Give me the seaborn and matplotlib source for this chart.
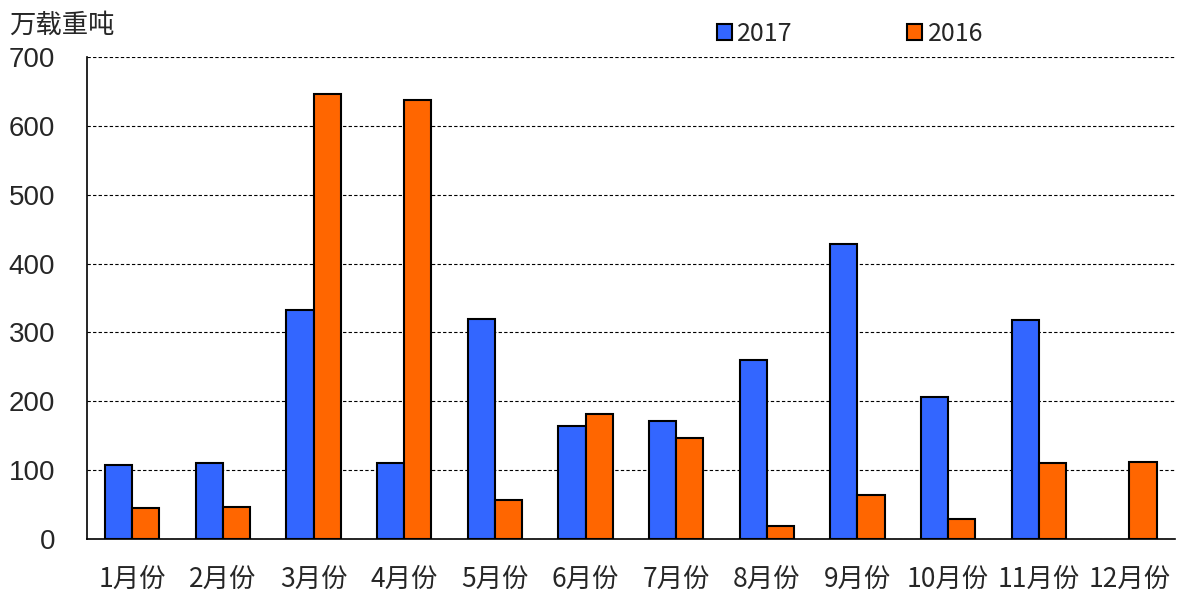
import numpy as np
import pandas as pd
import matplotlib
matplotlib.use('Agg')
import matplotlib.pyplot as plt
from matplotlib.ticker import FixedLocator
import seaborn as sns

months = ['1月份', '2月份', '3月份', '4月份', '5月份', '6月份',
          '7月份', '8月份', '9月份', '10月份', '11月份', '12月份']
v2017 = [108, 110, 332, 110, 320, 164, 171, 260, 428, 206, 318, np.nan]
v2016 = [45, 47, 647, 637, 57, 182, 147, 19, 64, 29, 110, 112]
years = ['2017', '2016']
colors = ['#3366FF', '#FF6600']

df = pd.DataFrame({'month': months * 2,
                   'value': v2017 + v2016,
                   'year': ['2017'] * 12 + ['2016'] * 12})

sns.set_style('white')
plt.rcParams['font.family'] = ['Noto Sans CJK SC', 'DejaVu Sans']

fig = plt.figure(figsize=(11.83, 5.97), dpi=100)
ax = fig.add_axes([0.0735, 0.0972, 0.9195, 0.8073])

sns.barplot(data=df, x='month', y='value', hue='year', hue_order=years,
            palette=colors, width=0.6, edgecolor='black', linewidth=1.5,
            saturation=1, ax=ax)

ax.set_ylim(0, 700)
ax.set_xlim(-0.5, 11.5)
ax.set_yticks(range(0, 701, 100))
ax.yaxis.grid(True, linestyle=(0, (3, 2)), color='black', linewidth=0.8)
ax.set_axisbelow(True)
for s in ['top', 'right']:
    ax.spines[s].set_visible(False)
ax.spines['left'].set_linewidth(1.2)
ax.spines['bottom'].set_linewidth(1.2)
ax.spines['left'].set_color('black')
ax.spines['bottom'].set_color('black')

ax.set_xlabel('')
ax.set_ylabel('')
ax.tick_params(axis='x', length=0, labelsize=19, pad=19)
ax.xaxis.set_minor_locator(FixedLocator(np.arange(0.5, 12, 1)))
ax.tick_params(axis='x', which='minor', direction='in', length=5, width=1, color='black')
ax.tick_params(axis='y', direction='in', length=3, color='black', pad=23)
for lab in ax.get_yticklabels():
    lab.set_family(['Liberation Sans', 'DejaVu Sans'])
    lab.set_fontsize(20)

fig.text(0.008, 0.958, '万载重吨', fontsize=19, va='center', ha='left')

leg = ax.legend(loc='lower left', bbox_to_anchor=(0.57, 1.0), ncol=2,
                frameon=False, fontsize=18, handlelength=0.6, handleheight=0.6,
                columnspacing=4.6, handletextpad=0.2, borderaxespad=0)

fig.savefig('out.png', dpi=100)
